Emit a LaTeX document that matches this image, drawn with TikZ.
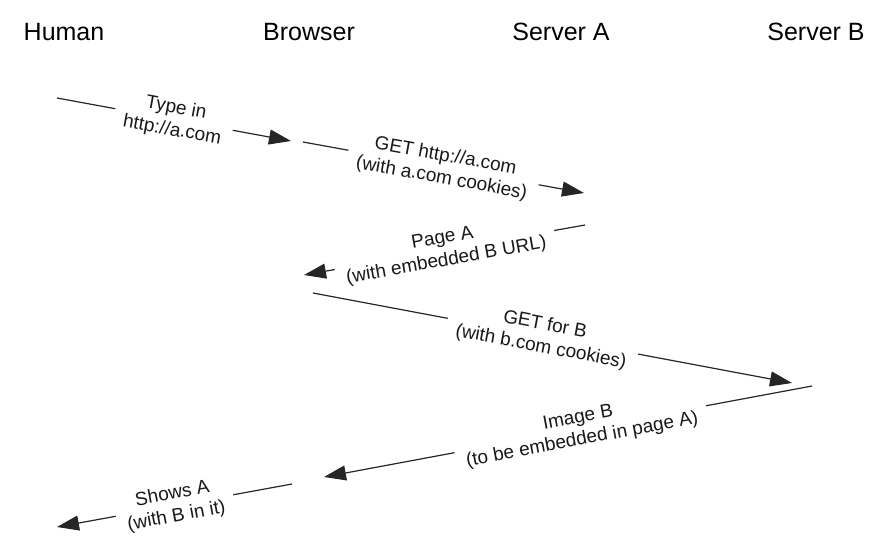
\documentclass[tikz,border=0pt]{standalone}
\usepackage{fontspec}
\setmainfont{Liberation Sans}
\usetikzlibrary{arrows.meta}
\tikzset{
  header/.style={font=\fontsize{25}{28}\selectfont, inner sep=0pt, anchor=base},
  msg/.style={draw=black!85, line width=1.2pt, -{Triangle[length=22pt,width=15pt]}},
  lbl/.style={sloped, fill=white, align=center, inner xsep=10pt, inner ysep=2pt,
    font=\fontsize{19}{22.5}\selectfont, text=black!90}
}
\begin{document}
\begin{tikzpicture}[x=1pt,y=-1pt]
\useasboundingbox (0,0) rectangle (875,558);
\node[header] (human) at (64,40) {Human};
\node[header] (browser) at (309,40) {Browser};
\node[header] (serverA) at (561,40) {Server A};
\node[header] (serverB) at (816,40) {Server B};

\coordinate (m1s) at (57,98);   \coordinate (m1e) at (291,141);
\coordinate (m2s) at (303,142); \coordinate (m2e) at (584,193);
\coordinate (m3s) at (585,225); \coordinate (m3e) at (304,275);
\coordinate (m4s) at (313,293); \coordinate (m4e) at (792,383);
\coordinate (m5s) at (812,386); \coordinate (m5e) at (324,477);
\coordinate (m6s) at (292,484); \coordinate (m6e) at (57,527);

\draw[msg] (m1s) -- node[lbl] {Type in\\http://a.com} (m1e);
\draw[msg] (m2s) -- node[lbl] {GET http://a.com\\(with a.com cookies)} (m2e);
\draw[msg] (m3s) -- node[lbl] {Page A\\(with embedded B URL)} (m3e);
\draw[msg] (m4s) -- node[lbl, pos=0.48] {GET for B\\(with b.com cookies)} (m4e);
\draw[msg] (m5s) -- node[lbl, pos=0.475] {Image B\\(to be embedded in page A)} (m5e);
\draw[msg] (m6s) -- node[lbl] {Shows A\\(with B in it)} (m6e);
\end{tikzpicture}
\end{document}
